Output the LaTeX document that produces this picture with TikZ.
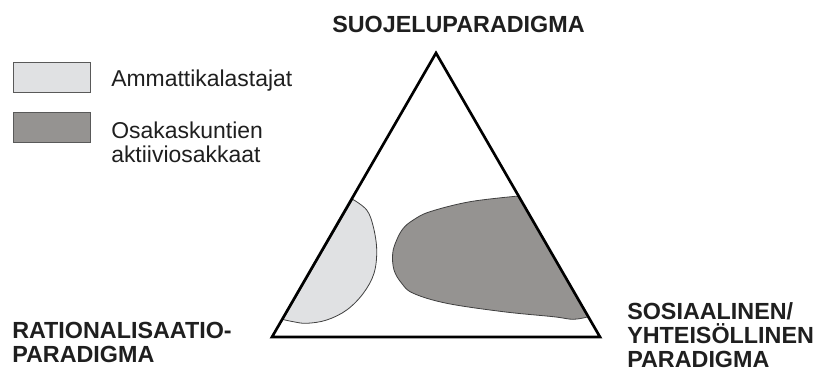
\documentclass[tikz,border=0pt]{standalone}
\usepackage{fontspec}
\setmainfont{Liberation Sans}
\definecolor{ammatti}{HTML}{E0E1E3}
\definecolor{osakas}{HTML}{959391}
\tikzset{
  paradigma/.style={font=\fontsize{17.5}{21}\selectfont\bfseries, anchor=base west, inner sep=0pt, text=black!88},
  selite/.style={font=\fontsize{17.2}{21}\selectfont, anchor=base west, inner sep=0pt, text=black!88},
  laatikko/.style={draw=black!65, line width=0.6pt, minimum width=57.75pt, minimum height=22.5pt, inner sep=0pt},
  alue/.style={draw=black!75, line width=0.6pt},
}
\begin{document}
\begin{tikzpicture}[x=0.75pt,y=-0.75pt]
    \useasboundingbox (0,0) rectangle (816,372);
    % kolmion kulmat
    \coordinate (suojelu) at (436,53);
    \coordinate (rational) at (272,337);
    \coordinate (sosiaal) at (600,337);
    % alueet
    \filldraw[alue, fill=ammatti] plot[smooth, tension=0.6] coordinates {(352.7,199.3) (366.7,210) (373.3,226.7) (376.7,250) (374,273.3) (363.3,293.3) (346.7,310) (326.7,320) (306.7,323.3) (293.3,321.7) (283,319.5)} -- cycle;
    \filldraw[alue, fill=osakas] plot[smooth, tension=0.6] coordinates {(518.6,196) (470,201.7) (430,211.7) (413.3,220) (403.3,228.3) (396.7,240) (392.7,253.3) (394,270) (401.7,283.3) (413.3,293.3) (446.7,303.3) (503.3,311.7) (553.3,316.7) (573.3,319.3) (588.5,316.7)} -- cycle;
    % kolmio
    \draw[line width=2pt, line join=miter] (suojelu) -- (sosiaal) -- (rational) -- cycle;
    % paradigmat
    \node[paradigma] (otsikko) at (332,32) {SUOJELUPARADIGMA};
    \node[paradigma] (rat1) at (12,338) {RATIONALISAATIO-};
    \node[paradigma] (rat2) at (12,362) {PARADIGMA};
    \node[paradigma] (sos1) at (627,319) {SOSIAALINEN/};
    \node[paradigma] (sos2) at (627,343) {YHTEISÖLLINEN};
    \node[paradigma] (sos3) at (627,367) {PARADIGMA};
    % selite
    \node[laatikko, fill=ammatti] (ruutu1) at (51.5,77) {};
    \node[laatikko, fill=osakas] (ruutu2) at (51.5,127.5) {};
    \node[selite] (amm) at (111,86) {Ammattikalastajat};
    \node[selite] (osa1) at (111,138) {Osakaskuntien};
    \node[selite] (osa2) at (111,162) {aktiiviosakkaat};
\end{tikzpicture}
\end{document}
